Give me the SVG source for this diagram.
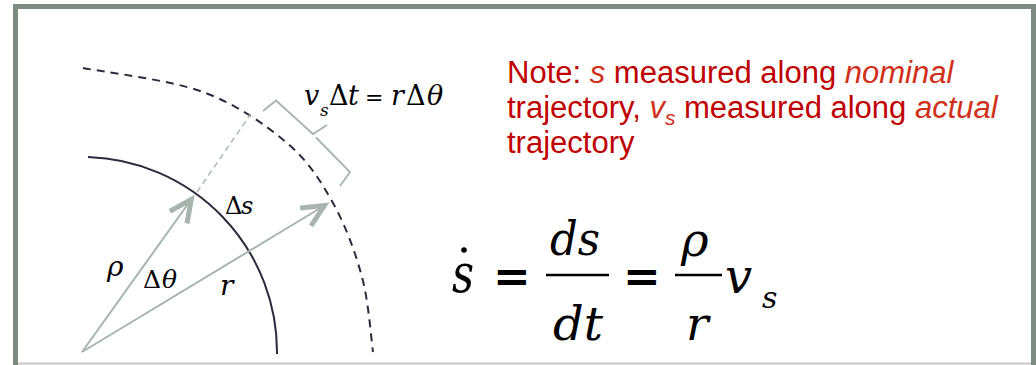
<svg xmlns="http://www.w3.org/2000/svg" width="1036" height="365" viewBox="0 0 1036 365">
<defs>
<style>
.frame{fill:none;stroke:#7f8a82;stroke-width:5}
.ray{fill:none;stroke:#a9b4ae;stroke-width:2}
.guide{fill:none;stroke:#b4bdb8;stroke-width:1.6;stroke-dasharray:6 4}
.nominal{fill:none;stroke:#2b2b3d;stroke-width:2}
.actual{fill:none;stroke:#2b2b3d;stroke-width:2;stroke-dasharray:8 6}
.brace{fill:none;stroke:#a9b4ae;stroke-width:1.8;stroke-linejoin:miter}
.m{font-family:'DejaVu Serif',serif;fill:#000}
.i{font-style:italic}
.note{font-family:'Liberation Sans',Arial,sans-serif;font-size:31px;fill:#c00000}
.em{font-style:italic;fill:#d0301a}
.bar{stroke:#000;stroke-width:2.4}
.eq{font-size:45px;font-weight:bold}
</style>
<marker id="chev" markerUnits="userSpaceOnUse" markerWidth="40" markerHeight="30" viewBox="-30 -15 40 30" refX="0" refY="0" orient="auto">
<path d="M-25,-10.5 L-3,0 L-25,10.5" fill="none" stroke="#a9b4ae" stroke-width="5"/>
</marker>
</defs>
<rect x="0" y="0" width="1036" height="365" fill="#fff"/>
<g id="frame">
<path class="frame" d="M15.5,366 V6.5 H1033.5 V366"/>
<line x1="18" y1="363.5" x2="1031" y2="363.5" stroke="#c8c8c8" stroke-width="2"/>
</g>
<g id="trajectories">
<path id="nominal" class="nominal" d="M88,157.1 A195,195 0 0 1 277,354"/>
<path id="actual" class="actual" d="M83,68 C103,72 169,79.5 203,92 C237,104.5 265.3,124.5 287,143 C308.7,161.5 320.5,180.7 333,203 C345.5,225.3 355.3,252.2 362,277 C368.7,301.8 371.2,339.5 373,352"/>
</g>
<g id="connectors">
<line class="guide" x1="197" y1="192" x2="250" y2="115"/>
<line id="rho-vec" class="ray" x1="82" y1="352" x2="193" y2="197" marker-end="url(#chev)"/>
<line id="r-vec" class="ray" x1="82" y1="352" x2="327" y2="204" marker-end="url(#chev)"/>
<path id="brace" class="brace" d="M263,111 L276,100.5 L313,134 L327,125 M316,137.5 L350,172 L340,186"/>
</g>
<g id="labels">
<text class="m" font-size="27" y="105"><tspan class="i" x="304">v</tspan><tspan class="i" x="320" y="116" font-size="17">s</tspan><tspan x="329" y="105">Δ</tspan><tspan class="i" x="348">t</tspan><tspan x="365" font-size="22">=</tspan><tspan class="i" x="391">r</tspan><tspan x="406">Δ</tspan><tspan class="i" x="427">θ</tspan></text>
<text class="m" font-size="24" y="214"><tspan x="225">Δ</tspan><tspan class="i" x="241">s</tspan></text>
<text class="m i" font-size="28" x="107" y="276">ρ</text>
<text class="m" font-size="25" y="288"><tspan x="143">Δ</tspan><tspan class="i" x="162">θ</tspan></text>
<text class="m i" font-size="28" x="220" y="295">r</text>
</g>
<g id="note">
<text class="note" x="507" y="83">Note: <tspan class="em">s</tspan> measured along <tspan class="em">nominal</tspan></text>
<text class="note" x="507" y="117.7">trajectory, <tspan class="em">v</tspan><tspan class="em" font-size="21" dy="7">s</tspan><tspan dy="-7"> measured along </tspan><tspan class="em">actual</tspan></text>
<text class="note" x="507" y="152.5">trajectory</text>
</g>
<g id="equation">
<text class="m i" font-size="54" x="452" y="292" textLength="22" lengthAdjust="spacingAndGlyphs">s</text>
<circle cx="464" cy="250" r="2.8" fill="#000"/>
<text class="m eq" x="493" y="292">=</text>
<line class="bar" x1="546" y1="275" x2="609" y2="275"/>
<text class="m i" font-size="47" x="550" y="255" textLength="50" lengthAdjust="spacingAndGlyphs">ds</text>
<text class="m i" font-size="47" x="553" y="340" textLength="50" lengthAdjust="spacingAndGlyphs">dt</text>
<text class="m eq" x="623" y="292">=</text>
<line class="bar" x1="675" y1="275" x2="722" y2="275"/>
<text class="m i" font-size="47" x="681" y="256">ρ</text>
<text class="m i" font-size="47" x="686" y="340">r</text>
<text class="m i" font-size="48" x="725" y="293">v</text>
<text class="m i" font-size="30" x="762" y="308">s</text>
</g>
</svg>
